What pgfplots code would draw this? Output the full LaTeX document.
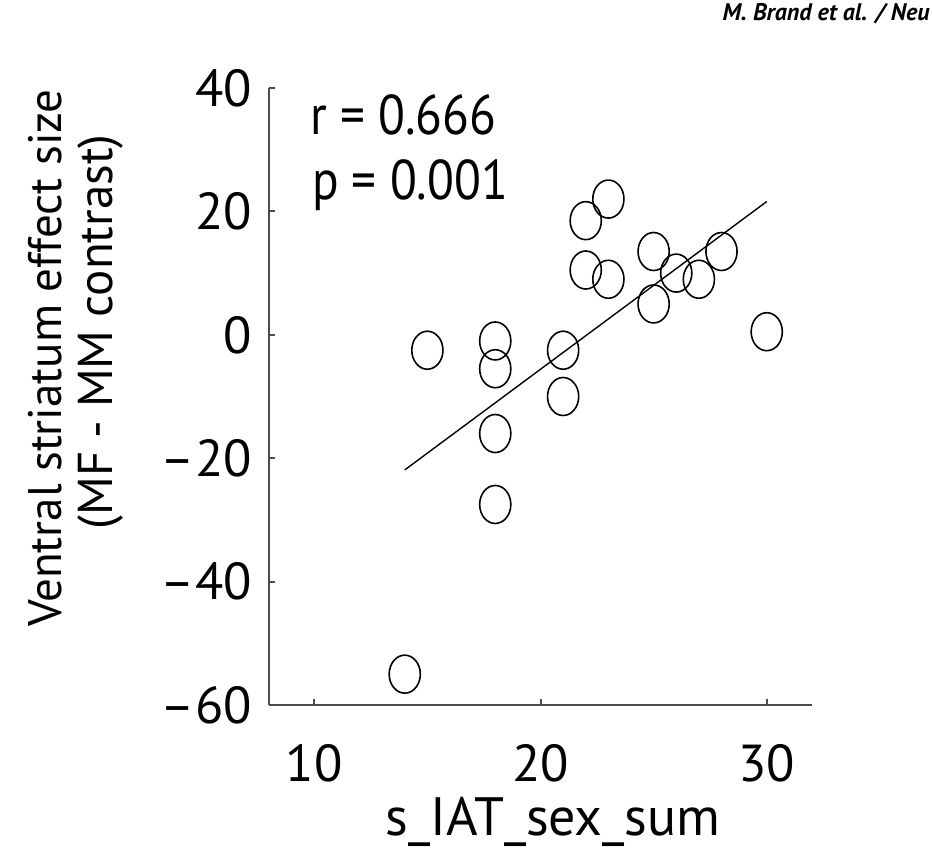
\documentclass[border=0pt]{standalone}
\usepackage{fontspec}
\setmainfont{PT Sans}
\usepackage{pgfplots}
\pgfplotsset{compat=1.18}

\pgfplotstableread{
x   y
14  -55
15  -2.5
18  -1
18  -5.5
18  -16
18  -27.5
21  -2.5
21  -10
22  18.5
23  22
22  10.5
23  9
25  13.5
25  5
26  10
27  9
28  13.5
30  0.5
}\scores

\pgfplotstableread{
x   y
14  -21.9
30  21.6
}\fitline

\begin{document}
\begin{tikzpicture}[x=0.5pt,y=-0.5pt]
\useasboundingbox (0,0) rectangle (932,867);
\begin{axis}[
  at={(134.5pt,-352.5pt)}, anchor=south west,
  scale only axis, width=271.5pt, height=308.5pt,
  xmin=8, xmax=32, ymin=-60, ymax=40,
  axis x line*=bottom, axis y line*=left,
  axis line style={-, line width=1pt, black!70},
  xtick={10,20,30}, ytick={-60,-40,-20,0,20,40},
  yticklabels={--60,--40,--20,0,20,40},
  tick align=inside, major tick length=3pt,
  tick style={line width=1pt, black!70},
  ticklabel style={font=\fontsize{26}{30}\selectfont},
  xticklabel style={yshift=-16pt},
  yticklabel style={xshift=-5pt},
  /pgf/number format/assume math mode=true,
  clip=false,
]
\addplot[only marks, mark=o, mark size=9.5pt,
  mark options={xscale=0.82, line width=0.8pt, black}] table[x=x,y=y] {\scores};
\addplot[black, line width=0.7pt] table[x=x,y=y] {\fitline};
\end{axis}
\node[rotate=90, font=\fontsize{23.5}{28}\selectfont] at (45,358) {Ventral striatum effect size};
\node[rotate=90, font=\fontsize{24.5}{28}\selectfont] at (100,332) {(MF - MM contrast)};
\node[font=\fontsize{27}{32}\selectfont] at (553,822) {s\_IAT\_sex\_sum};
\node[anchor=west, xscale=0.88, font=\fontsize{28}{32}\selectfont] at (304,115) {r = 0.666};
\node[anchor=west, xscale=0.88, font=\fontsize{28}{32}\selectfont] at (306,185) {p = 0.001};
\node[anchor=east, inner sep=0pt, font=\fontsize{12}{14}\bfseries\itshape] at (930,14) {M. Brand et al. / Neu};
\end{tikzpicture}
\end{document}
